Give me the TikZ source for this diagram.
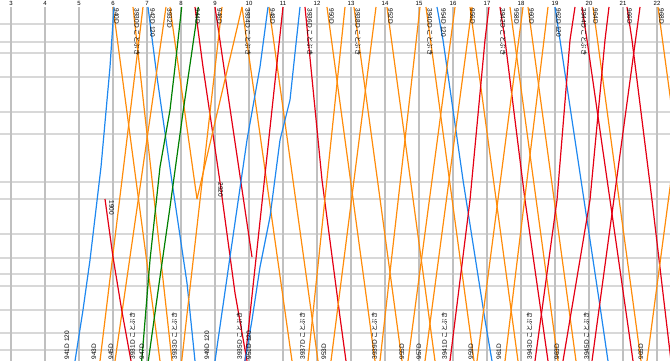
\documentclass[tikz,border=0pt]{standalone}
\usepackage{fontspec}
\setmainfont{Liberation Sans}
\newfontfamily\jpfont{Noto Sans CJK JP}
\usetikzlibrary{positioning}
\definecolor{gridgray}{RGB}{192,192,192}
\definecolor{stagray}{RGB}{216,216,216}
\definecolor{lineblue}{RGB}{30,136,240}
\definecolor{lineorange}{RGB}{255,140,10}
\definecolor{linered}{RGB}{228,0,20}
\definecolor{linegreen}{RGB}{0,128,0}
\tikzstyle{hourline} = [line width=1.2pt,color=gridgray]
\tikzstyle{staline} = [line width=1.4pt,color=stagray]
\tikzstyle{tblue} = [line width=1.2pt,color=lineblue]
\tikzstyle{torange} = [line width=1.2pt,color=lineorange]
\tikzstyle{tred} = [line width=1.2pt,color=linered]
\tikzstyle{tgreen} = [line width=1.2pt,color=linegreen]
\tikzstyle{toplbl} = [rotate=-90,anchor=south west,inner sep=0.5pt,font=\fontsize{6.5}{6.5}\selectfont]
\tikzstyle{botlbl} = [rotate=90,anchor=north west,inner sep=0.5pt,font=\fontsize{6.5}{6.5}\selectfont]
\newcommand{\kb}{\jpfont ことぶき}

\begin{document}
\begin{tikzpicture}[x=1pt,y=-1pt]
        \useasboundingbox (0,0) rectangle (670,361);
        \clip (0,0) rectangle (670,361);
        % station lines
        \foreach \sy in {24,42,53,77,112,134,182,199,234,258,274,286,310,333,350}
            \draw [staline] (0,\sy) -- (670,\sy);
        % hour lines
        \foreach \h [count=\i from 0] in {3,...,22} {
            \draw [hourline] (11+34*\i,7) -- (11+34*\i,361);
            \node (hour-\h) [inner sep=0pt,font=\fontsize{6}{6}\selectfont] at (11+34*\i,3.5) {\h};
        }
        % down trains (start at the top)
        \draw [torange] (113,7) -- (160,361);
        \draw [torange] (133,7) -- (172,361);
        \draw [tblue] (148,7) -- (157,77) -- (172,182) -- (187,283) -- (195,361);
        \draw [torange] (170,7) -- (197,199);
        \draw [tred] (195,7) -- (203,67) -- (220,182) -- (235,293) -- (247,361);
        \draw [tred] (215,7) -- (252,257);
        \draw [torange] (242,7) -- (292,361);
        \draw [torange] (269,7) -- (318,361);
        \draw [tred] (305,7) -- (322,180) -- (340,317) -- (346,361);
        \draw [torange] (327,7) -- (375,361);
        \draw [torange] (354,7) -- (402,361);
        \draw [torange] (387,7) -- (435,361);
        \draw [torange] (426,7) -- (474,361);
        \draw [tblue] (437,7) -- (443,40) -- (463,180) -- (485,320) -- (492,361);
        \draw [torange] (470,7) -- (518,361);
        \draw [tred] (500,7) -- (505,40) -- (525,200) -- (548,361);
        \draw [torange] (510,7) -- (558,361);
        \draw [torange] (528,7) -- (576,361);
        \draw [tblue] (555,7) -- (560,40) -- (584,200) -- (601,313) -- (608,361);
        \draw [tred] (582,7) -- (587,40) -- (610,200) -- (633,361);
        \draw [torange] (593,7) -- (641,361);
        \draw [tred] (627,7) -- (632,40) -- (652,200) -- (671,361);
        \draw [torange] (658,7) -- (706,361);
        % up trains (start at the bottom)
        \draw [tblue] (75,361) -- (83,310) -- (90,260) -- (101,167) -- (110,67) -- (114,7);
        \draw [torange] (100,361) -- (143,7);
        \draw [torange] (115,361) -- (166,7);
        \draw [tgreen] (141.7,361) -- (150,260) -- (160,167) -- (170,110) -- (175,67) -- (181.7,7);
        \draw [tgreen] (148.3,361) -- (160,277) -- (170,207) -- (183.3,110) -- (191.7,53) -- (198.3,7);
        \draw [torange] (181.7,361) -- (222,7);
        \draw [torange] (197,199) -- (242,7);
        \draw [tblue] (215,361) -- (230,257) -- (247,140) -- (260,67) -- (268,7);
        \draw [tred] (245,361) -- (283,7);
        \draw [tblue] (245,361) -- (252,320) -- (260,267) -- (270,217) -- (280,140) -- (290,100) -- (295,53) -- (300,7);
        \draw [torange] (308,361) -- (345,7);
        \draw [torange] (331,361) -- (376,7);
        \draw [torange] (380,361) -- (420,7);
        \draw [torange] (408,361) -- (455,7);
        \draw [torange] (425,361) -- (472,7);
        \draw [tred] (450,361) -- (470,200) -- (485,40) -- (489,7);
        \draw [torange] (477,361) -- (523,7);
        \draw [torange] (505,361) -- (548,7);
        \draw [tred] (535,361) -- (557,200) -- (570,40) -- (575,7);
        \draw [tred] (563,361) -- (590,200) -- (605,40) -- (609,7);
        \draw [tred] (592,361) -- (640,7);
        \draw [torange] (647,361) -- (694,7);
        % trains from the middle
        \draw [tred] (105,199) -- (113,257) -- (121.7,310) -- (131,361);
        % labels at the top
        \node (n940) [toplbl] at (113.5,8) {940D};
        \node (n3930) [toplbl] at (133.5,8) {3930D \kb};
        \node (n942) [toplbl] at (149.5,8) {942D 120};
        \node (n3932) [toplbl] at (166.5,8) {3932D};
        \node (n944) [toplbl] at (194.5,8) {944D};
        \node (n946) [toplbl] at (216.5,8) {946D};
        \node (n3934) [toplbl] at (244.5,8) {3934D \kb};
        \node (n948) [toplbl] at (269.5,8) {948D};
        \node (n3936) [toplbl] at (306.5,8) {3936D \kb};
        \node (n950) [toplbl] at (328.5,8) {950D};
        \node (n3938) [toplbl] at (354.5,8) {3938D \kb};
        \node (n952) [toplbl] at (387.5,8) {952D};
        \node (n3940) [toplbl] at (426.5,8) {3940D \kb};
        \node (n954) [toplbl] at (440.5,8) {954D 120};
        \node (n956) [toplbl] at (469.5,8) {956D};
        \node (n3942) [toplbl] at (499.5,8) {3942D \kb};
        \node (n958) [toplbl] at (513.5,8) {958D};
        \node (n960) [toplbl] at (528.5,8) {960D};
        \node (n962) [toplbl] at (555.5,8) {962D 120};
        \node (n3944) [toplbl] at (580.5,8) {3944D \kb};
        \node (n964) [toplbl] at (592.5,8) {964D};
        \node (n966) [toplbl] at (626.5,8) {966D};
        \node (n968) [toplbl] at (658.5,8) {968D};
        \node (n1900) [toplbl] at (108.5,200) {1900};
        \node (n2920) [toplbl] at (217.5,182) {2920};
        % labels at the bottom
        \node (n941) [botlbl] at (64,360) {941D 120};
        \node (n943) [botlbl] at (91,360) {943D};
        \node (n945) [botlbl] at (108,360) {945D};
        \node (n3931) [botlbl] at (129,360) {3931D \kb};
        \node (n947) [botlbl] at (139,360) {947D};
        \node (n3933) [botlbl] at (171,360) {3933D \kb};
        \node (n949) [botlbl] at (204,360) {949D 120};
        \node (n3935) [botlbl] at (236,360) {3935D \kb};
        \node (n951) [botlbl] at (246,360) {951D 120};
        \node (n3937) [botlbl] at (299,360) {3937D \kb};
        \node (n953) [botlbl] at (321,360) {953D};
        \node (n3939) [botlbl] at (371,360) {3939D \kb};
        \node (n955) [botlbl] at (399,360) {955D};
        \node (n957) [botlbl] at (416,360) {957D};
        \node (n3941) [botlbl] at (441,360) {3941D \kb};
        \node (n959) [botlbl] at (468,360) {959D};
        \node (n961) [botlbl] at (496,360) {961D};
        \node (n3943) [botlbl] at (526,360) {3943D \kb};
        \node (n963) [botlbl] at (554,360) {963D};
        \node (n3945) [botlbl] at (583,360) {3945D \kb};
        \node (n965) [botlbl] at (638,360) {965D};
    \end{tikzpicture}
\end{document}
